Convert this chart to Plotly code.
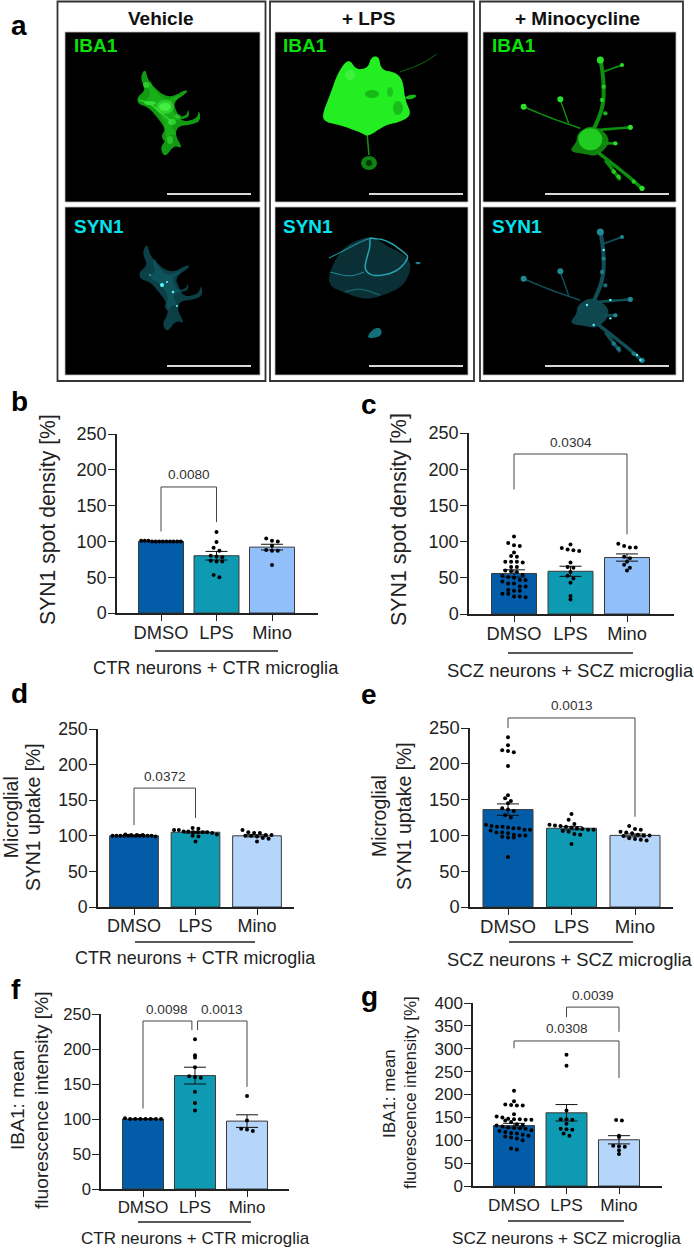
import plotly.graph_objects as go

W, H = 694, 1249
FONT = "Liberation Sans"
INK = "#222222"

categories = ["DMSO", "LPS", "Mino"]
ctr_label = "CTR neurons + CTR microglia"
scz_label = "SCZ neurons + SCZ microglia"

# ---- means and SEM
b_means = [100, 80, 92];   b_sem = [0.3, 6, 4]
c_means = [56, 59, 78];    c_sem = [5, 7, 5]
d_means = [100, 105, 100]; d_sem = [0.4, 1.3, 1.5]
e_means = [136, 110, 100]; e_sem = [8, 2.2, 2]
f_means = [100, 162, 97];  f_sem = [0.2, 12, 9]
g_means = [132, 160, 101]; g_sem = [5, 18, 9]

# ---- individual points
b_dmso = [101, 101, 100, 101, 100, 100, 100, 100, 100, 100, 100, 100]
b_lps = [113, 99, 91, 87, 80, 79, 78, 73, 72, 72, 53, 50]
b_mino = [104, 101, 100, 94, 88, 87, 87, 67]
c_dmso = [107, 98, 95, 94, 85, 80, 79, 72, 72, 72, 71, 65, 65, 60, 59, 58, 54, 53, 51, 50,
          47, 47, 45, 42, 42, 38, 38, 33, 32, 32, 28, 28, 24, 24, 23]
c_lps = [96, 91, 89, 88, 87, 71, 65, 64, 58, 53, 49, 43, 25, 20]
c_mino = [97, 94, 92, 92, 79, 77, 72, 68, 64, 60]
d_dmso = [102, 100, 100, 100, 100, 100, 100, 101, 101, 100, 100, 99, 100, 100, 100, 101]
d_lps = [111, 110, 108, 108, 106, 106, 105, 105, 105, 105, 104, 102, 100, 99, 92]
d_mino = [108, 105, 104, 104, 101, 101, 100, 100, 99, 97, 96, 92]
e_dmso = [237, 226, 219, 218, 216, 197, 156, 152, 148, 145, 138, 136, 134, 128, 125, 115, 113,
          112, 112, 111, 110, 110, 108, 108, 107, 104, 104, 103, 101, 100, 100, 98, 97, 97, 70]
e_lps = [130, 122, 116, 115, 114, 113, 112, 111, 110, 109, 108, 108, 106, 105, 102, 101, 88]
e_mino = [113, 109, 108, 105, 104, 103, 101, 100, 100, 99, 96, 95, 94, 93]
f_dmso = [101, 100, 100, 100, 100, 100, 100, 100]
f_lps = [214, 191, 188, 174, 161, 160, 159, 139, 123, 112]
f_mino = [133, 98, 86, 85, 83]
g_dmso = [208, 185, 178, 177, 176, 176, 157, 152, 150, 147, 146, 146, 145, 145, 143, 140, 135,
          133, 132, 130, 128, 127, 126, 125, 122, 120, 118, 116, 115, 112, 110, 108, 106, 104,
          100, 82, 80]
g_lps = [287, 263, 165, 146, 146, 145, 136, 125, 124, 123, 115, 110]
g_mino = [144, 143, 110, 107, 88, 87, 86, 78, 70]

# ---- significance brackets: from-category, to-category, top, left foot, right foot, label
b_brackets = [(0, 1, 176, 114, 127, "0.0080")]
c_brackets = [(0, 2, 221, 172, 110, "0.0304")]
d_brackets = [(0, 1, 167, 115, 125, "0.0372")]
e_brackets = [(0, 2, 264, 250, 126, "0.0013")]
f_brackets = [(0, 0.94, 240, 115, 227, "0.0098"), (1.05, 2, 240, 227, 146, "0.0013")]
g_brackets = [(1, 2, 391, 369, 337, "0.0039"), (0, 2, 317, 301, 236, "0.0308")]

COL_DMSO, COL_LPS, COL_MINO_A, COL_MINO_B = "#035CA8", "#0F9AB4", "#90BFFA", "#B5D5FB"

panels = [
    dict(name="b", means=b_means, sem=b_sem, pts=[b_dmso, b_lps, b_mino], br=b_brackets, ymax=250, step=50,
         ax=117, right=318, y0=613, ytop=434, t0=161, dt=55.5, bw=45, mino=COL_MINO_A, tick=18, cap=18.3,
         label=ctr_label, line=(155, 278, 651), lab_x=216, lab_y=668, title=["SYN1 spot density [%]"],
         tx=[48], ty=520, ts=21.2, letter=(19, 401)),
    dict(name="c", means=c_means, sem=c_sem, pts=[c_dmso, c_lps, c_mino], br=c_brackets, ymax=250, step=50,
         ax=469, right=674, y0=614, ytop=433, t0=514, dt=56.5, bw=45, mino=COL_MINO_A, tick=18, cap=18.5,
         label=scz_label, line=(508, 633, 653), lab_x=570, lab_y=670, title=["SYN1 spot density [%]"],
         tx=[399], ty=520, ts=21.4, letter=(369, 404)),
    dict(name="d", means=d_means, sem=d_sem, pts=[d_dmso, d_lps, d_mino], br=d_brackets, ymax=250, step=50,
         ax=98, right=294, y0=907, ytop=729, t0=134, dt=61.5, bw=48.7, mino=COL_MINO_B, tick=17.7, cap=17.9,
         label=ctr_label, line=(135, 255, 942), lab_x=195, lab_y=958, title=["Microglial", "SYN1 uptake [%]"],
         tx=[11.2, 33], ty=817, ts=19.4, letter=(19, 693)),
    dict(name="e", means=e_means, sem=e_sem, pts=[e_dmso, e_lps, e_mino], br=e_brackets, ymax=250, step=50,
         ax=470, right=673, y0=907, ytop=728, t0=508, dt=63.5, bw=50, mino=COL_MINO_B, tick=18.3, cap=18.4,
         label=scz_label, line=(509, 633, 942), lab_x=570, lab_y=959, title=["Microglial", "SYN1 uptake [%]"],
         tx=[379, 404], ty=816, ts=19.4, letter=(369, 694)),
    dict(name="f", means=f_means, sem=f_sem, pts=[f_dmso, f_lps, f_mino], br=f_brackets, ymax=250, step=50,
         ax=101, right=289, y0=1189, ytop=1014, t0=143, dt=52, bw=41, mino=COL_MINO_B, tick=16.6, cap=17,
         label=ctr_label, line=(138, 251, 1222), lab_x=195, lab_y=1238, title=["IBA1: mean", "fluorescence intensity [%]"],
         tx=[17, 41], ty=1100, ts=19.2, letter=(16, 990)),
    dict(name="g", means=g_means, sem=g_sem, pts=[g_dmso, g_lps, g_mino], br=g_brackets, ymax=400, step=50,
         ax=473, right=662, y0=1186, ytop=1003, t0=514, dt=52.5, bw=41, mino=COL_MINO_B, tick=17, cap=17.2,
         label=scz_label, line=(508, 624, 1221), lab_x=566, lab_y=1238, title=["IBA1: mean", "fluorescence intensity [%]"],
         tx=[389, 410], ty=1093, ts=17, letter=(369, 996)),
]


def px(x):
    return x / W


def py(y):
    return 1 - y / H


def swarm(values, px_per_unit, bar_px):
    """Prism-style column scatter: rows of points centred on the category."""
    row_px = 5.5
    rows = {}
    for v in sorted(values, reverse=True):
        rows.setdefault(int(v * px_per_unit // row_px), []).append(v)
    xs, ys = [], []
    for row in rows.values():
        n = len(row)
        sp = min(5.8, bar_px * 0.88 / max(n - 1, 1))
        for i, v in enumerate(row):
            xs.append((i - (n - 1) / 2) * sp)
            ys.append(v)
    return xs, ys


fig = go.Figure()
shapes, notes = [], []


def text(x, y, s, size, color=INK, bold=False, angle=0, anchor="center"):
    notes.append(dict(x=px(x), y=py(y), xref="paper", yref="paper", text=f"<b>{s}</b>" if bold else s,
                      showarrow=False, textangle=angle, xanchor=anchor, yanchor="middle", borderpad=0,
                      font=dict(family=FONT, size=size, color=color)))


# ---------------- panel a: micrographs (illustrative vector rendering)
def chaikin(points, close=True, rounds=3):
    pts = list(points)
    for _ in range(rounds):
        out = []
        n = len(pts)
        for i in range(n if close else n - 1):
            a, b = pts[i], pts[(i + 1) % n]
            out.append((0.75 * a[0] + 0.25 * b[0], 0.75 * a[1] + 0.25 * b[1]))
            out.append((0.25 * a[0] + 0.75 * b[0], 0.25 * a[1] + 0.75 * b[1]))
        if not close:
            out = [pts[0]] + out + [pts[-1]]
        pts = out
    return pts


def path(points, close=True):
    d = "M " + " L ".join(f"{px(x):.5f} {py(y):.5f}" for x, y in chaikin(points, close))
    return d + (" Z" if close else "")


def blob(points, color, op=1.0):
    shapes.append(dict(type="path", path=path(points), xref="paper", yref="paper", fillcolor=color,
                       opacity=op, line=dict(width=0)))


def stroke(points, color, width, op=1.0):
    shapes.append(dict(type="path", path=path(points, close=False), xref="paper", yref="paper",
                       fillcolor="rgba(0,0,0,0)", opacity=op, line=dict(color=color, width=width)))


def disc(cx, cy, rx, color, op=1.0, ry=None):
    ry = rx if ry is None else ry
    shapes.append(dict(type="circle", xref="paper", yref="paper", x0=px(cx - rx), x1=px(cx + rx),
                       y0=py(cy + ry), y1=py(cy - ry), fillcolor=color, opacity=op, line=dict(width=0)))


def rect(x0, y0, x1, y1, fill="rgba(0,0,0,0)", line=None, lw=0):
    shapes.append(dict(type="rect", xref="paper", yref="paper", x0=px(x0), x1=px(x1), y0=py(y1), y1=py(y0),
                       fillcolor=fill, line=dict(color=line, width=lw) if lw else dict(width=0)))


for x0, x1 in [(57.5, 265.5), (270, 474), (480, 683)]:
    rect(x0, 1.5, x1, 381, line="#333333", lw=1.8)

columns = [(65, 260, 73, (167, 251)), (275, 468, 282, (369, 463)), (483, 676, 491, (545, 669))]
for x0, x1, lx, bar in columns:
    for y0, y1, by in [(32, 202, 194), (207, 375, 366)]:
        rect(x0, y0, x1, y1, fill="#000000", line="#bbbbbb", lw=0.8)
        shapes.append(dict(type="line", xref="paper", yref="paper", x0=px(bar[0]), x1=px(bar[1]),
                           y0=py(by), y1=py(by), line=dict(color="#d8d8d8", width=2)))

# Vehicle
veh = [(145, 68), (148, 80), (154, 87), (163, 95), (172, 97), (183, 91), (187, 90), (187, 93), (173, 102), (177, 113),
       (182, 122), (197, 119), (199, 109), (201, 121), (190, 125), (178, 126), (175, 135), (183, 149),
       (174, 145), (165, 158), (160, 148), (166, 140), (165, 128), (157, 117), (148, 107), (138, 104),
       (137, 97), (146, 90), (140, 78)]
blob(veh, "#129A12")
blob([(x * 0.7 + 49, y * 0.7 + 32) for x, y in veh], "#1AB41A", 0.8)
for cx, cy, rx, ry, o in [(165, 107, 9, 7, 0.5), (165, 107, 6, 4, 1), (150, 103, 6, 2, 0.7), (172, 122, 4, 3, 0.6),
                          (178, 116, 3, 2, 0.5), (146, 85, 3, 3, 0.6), (170, 140, 3, 4, 0.5)]:
    disc(cx, cy, rx, "#42EE42", o, ry)
stroke([(139, 100), (150, 103), (160, 112), (172, 122)], "#35E035", 1.2)
veh2 = [(x + 2, y + 175) for x, y in veh]
blob(veh2, "#0C4047")
blob([(x * 0.6 + 67, y * 0.6 + 112) for x, y in veh2], "#105A63", 0.7)
for cx, cy, r in [(162, 285, 2), (173, 292, 1.3), (167, 282, 1), (177, 306, 1), (150, 275, 0.8)]:
    disc(cx, cy, r, "#5CF6FF")

# + LPS
stroke([(400, 72), (420, 65), (437, 54)], "#0D7A0D", 0.9)
stroke([(367, 133), (369, 155)], "#128F12", 1.6)
disc(369, 163, 8, "#129A12", 0.85, 7)
disc(369, 163, 3, "#053A05")
blob([(403, 98), (412, 94), (418, 96), (410, 100)], "#1AB81A")
blob([(322, 115), (330, 95), (338, 72), (349, 58), (356, 70), (368, 68), (371, 57), (379, 56), (381, 70),
      (395, 72), (403, 80), (405, 100), (412, 115), (400, 122), (385, 125), (368, 137), (362, 133),
      (340, 125), (325, 122)], "#22EE22")
disc(372, 94, 7, "#14B414", 0.9, 4)
disc(398, 108, 5, "#16A816", 0.7, 7)
disc(390, 92, 3, "#18B418", 0.7, 5)
disc(350, 75, 5, "#55F555", 0.6)
lps2 = [(327, 285), (332, 265), (345, 245), (372, 235), (385, 245), (405, 255), (412, 265), (405, 285),
        (385, 295), (365, 300), (345, 293)]
blob(lps2, "#0A2F35")
stroke([(370, 238), (387, 240), (405, 253), (409, 258), (397, 272), (374, 277), (364, 270), (367, 257), (370, 247), (370, 238)],
       "#27A6B2", 1.5)
stroke([(329, 258), (345, 250), (358, 243), (370, 238)], "#1C8590", 1.3)
stroke([(330, 272), (350, 277), (364, 272)], "#1C8590", 1.1)
stroke([(345, 292), (360, 288), (380, 295)], "#145F68", 1.5)
blob([(366, 338), (374, 328), (381, 328), (382, 335), (375, 338)], "#14707A")
blob([(414, 262), (422, 262), (418, 265)], "#1C8590")

# + Minocycline
Z = lambda zx, zy, dy=0: (347 + zx / 3, zy / 3 + dy)
mino_branches = [
    ([(735, 400), (770, 320), (770, 240), (760, 175)], 4),
    ([(770, 215), (825, 195)], 1.8),
    ([(700, 385), (600, 350), (530, 320)], 1.5),
    ([(665, 370), (640, 300)], 1.5),
    ([(750, 390), (850, 382)], 2.6),
    ([(760, 430), (805, 430)], 2.6),
    ([(750, 455), (840, 525), (890, 570)], 3.4),
    ([(775, 480), (820, 540)], 3.5),
]
mino_ends = [(760, 180, 3.5), (825, 195, 2), (530, 320, 3), (640, 298, 3), (850, 382, 2.6), (805, 430, 2.2), (885, 565, 2.6)]
mino_body = [(690, 400), (730, 375), (775, 395), (790, 430), (750, 470), (715, 462), (665, 455), (690, 425)]
mino_knots = [(770, 260), (765, 300), (775, 340), (815, 530), (800, 515), (860, 545)]
for dy, col, body, tip in [(0, "#0E8E0E", "#1FCC1F", "#2AE02A"), (172, "#114E56", "#0F474E", "#1E8A94")]:
    for pts, wd in mino_branches:
        stroke([Z(a, b, dy) for a, b in pts], col, wd)
    for a, b, r in mino_ends:
        disc(*Z(a, b, dy), r, tip)
    for a, b in mino_knots:
        disc(*Z(a, b, dy), 2.2, tip, 0.8)
    blob([Z(a, b, dy) for a, b in mino_body], col, 0.9)
    cx, cy = Z(730, 418, dy)
    disc(cx, cy, 12, body, 1, 11)
for a, b in [(770, 750), (720, 915), (790, 900), (740, 975), (790, 955), (870, 1065), (880, 1080)]:
    disc(*Z(a, b), 1.2, "#5CF6FF")

for (cx, title) in [(161, "Vehicle"), (368, "+ LPS"), (577, "+ Minocycline")]:
    text(cx, 18.5, title, 19, color="#111111", bold=True)
for x0, x1, lx, bar in columns:
    text(lx, 45, "IBA1", 19, color="#0BE00B", bold=True, anchor="left")
    text(lx, 226, "SYN1", 19, color="#05E3EE", bold=True, anchor="left")
text(19, 25, "a", 28, color="#000000", bold=True)

# ---------------- bar panels
layout_axes = {}
extra = len(panels)
for i, p in enumerate(panels):
    n = "" if i == 0 else str(i + 1)
    xa, ya = f"x{n}", f"y{n}"
    per_unit = (p["y0"] - p["ytop"]) / p["ymax"]
    colors = [COL_DMSO, COL_LPS, p["mino"]]
    fig.add_trace(go.Bar(x=[0, 1, 2], y=p["means"], width=p["bw"] / p["dt"], xaxis=xa, yaxis=ya,
                         marker=dict(color=colors, line=dict(color="#3a3a3a", width=1)),
                         error_y=dict(type="data", array=p["sem"], color="#111111", thickness=1, width=11),
                         showlegend=False))
    sx, sy = [], []
    for c, vals in enumerate(p["pts"]):
        off, ys = swarm(vals, per_unit, p["bw"])
        sx += [c + o / p["dt"] for o in off]
        sy += ys
    fig.add_trace(go.Scatter(x=sx, y=sy, mode="markers", xaxis=xa, yaxis=ya, showlegend=False,
                             marker=dict(color="#000000", size=4, line=dict(width=0))))

    # brackets live on a hidden twin y axis with the same scale and head-room above the plot
    extra += 1
    ya2 = f"y{extra}"
    head_px = 30
    layout_axes[f"yaxis{extra}"] = dict(
        domain=[py(p["y0"]), py(p["ytop"] - head_px)], anchor=xa, visible=False,
        range=[0, p["ymax"] + head_px / per_unit], automargin=False, showgrid=False, zeroline=False)
    for a, b, top, lf, rf, lab in p["br"]:
        fig.add_trace(go.Scatter(x=[a, a, b, b], y=[lf, top, top, rf], mode="lines", xaxis=xa, yaxis=ya2,
                                 showlegend=False, line=dict(color="#444444", width=1)))
        notes.append(dict(x=(a + b) / 2, y=top, xref=xa, yref=ya2, text=lab, showarrow=False, yshift=12,
                          xanchor="center", yanchor="middle", borderpad=0,
                          font=dict(family=FONT, size=13.6, color="#333333")))
    layout_axes["xaxis" + n] = dict(
        domain=[px(p["ax"]), px(p["right"])], anchor=ya, automargin=False,
        range=[(p["ax"] - p["t0"]) / p["dt"], (p["right"] - p["t0"]) / p["dt"]],
        tickmode="array", tickvals=[0, 1, 2], ticktext=categories, ticks="outside", ticklen=6, tickwidth=1.3,
        tickcolor=INK, showline=True, linecolor=INK, linewidth=1.5, showgrid=False, zeroline=False,
        ticklabelstandoff=-4, tickfont=dict(family=FONT, size=p["tick"] + 0.3, color=INK))
    layout_axes["yaxis" + n] = dict(
        domain=[py(p["y0"]), py(p["ytop"])], anchor=xa, range=[0, p["ymax"]], automargin=False,
        tickmode="linear", tick0=0, dtick=p["step"], ticks="outside", ticklen=7, tickwidth=1.3,
        tickcolor=INK, showline=True, linecolor=INK, linewidth=1.5, showgrid=False, zeroline=False,
        ticklabelstandoff=-2, tickfont=dict(family=FONT, size=p["tick"], color=INK))
    shapes.append(dict(type="line", xref="paper", yref="paper", x0=px(p["line"][0]), x1=px(p["line"][1]),
                       y0=py(p["line"][2]), y1=py(p["line"][2]), line=dict(color="#222222", width=1.3)))
    text(p["lab_x"], p["lab_y"], p["label"], p["cap"])
    for s, tx in zip(p["title"], p["tx"]):
        text(tx, p["ty"], s, p["ts"], angle=-90)
    text(p["letter"][0], p["letter"][1], p["name"], 28, color="#000000", bold=True)

fig.update_layout(template="none", width=W, height=H, autosize=False,
                  margin=dict(l=0, r=0, t=0, b=0, pad=0, autoexpand=False), paper_bgcolor="white",
                  plot_bgcolor="rgba(0,0,0,0)", showlegend=False, shapes=shapes,
                  annotations=notes, font=dict(family=FONT), **layout_axes)
fig.write_html("out.html", config=dict(displayModeBar=False),
               post_script="document.body.style.margin='0';document.documentElement.style.overflow='hidden';")
